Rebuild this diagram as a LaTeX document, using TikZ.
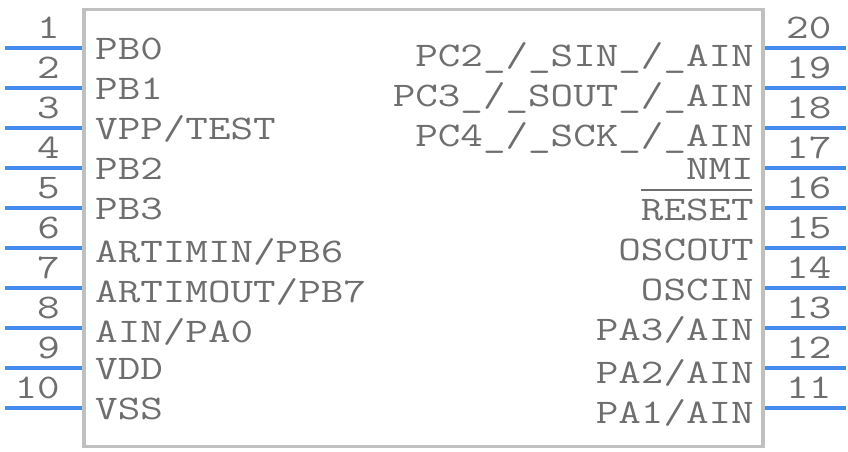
\documentclass[tikz,border=0pt]{standalone}
\usepackage{fontspec}
\setmonofont[FakeStretch=1.27]{Latin Modern Mono}
\usepackage{tikz}
\definecolor{pinblue}{RGB}{68,140,240}
\definecolor{labelgray}{RGB}{110,110,110}
\definecolor{bodygray}{RGB}{192,192,192}
\tikzstyle{chipbody} = [draw=bodygray, line width=3.2pt, rectangle, minimum width=679pt, minimum height=437pt, inner sep=0pt]
\tikzstyle{pinline} = [draw=pinblue, line width=3.2pt]
\tikzstyle{pinname} = [text=labelgray, inner sep=0pt, font=\ttfamily\fontsize{34.5}{34.5}\selectfont]
\tikzstyle{pinnum} = [pinname]

\begin{document}
\begin{tikzpicture}[x=1pt,y=-1pt]
        \useasboundingbox (0,0) rectangle (848,452);
        \node [chipbody] (chip) at (423.5,228) {};
        % left side, pins 1 to 10
        \foreach \n in {1,...,10} {
            \pgfmathsetmacro\py{8+40*\n}
            \coordinate (p\n) at (5,\py);
            \draw [pinline] (p\n) -- (chip.west |- p\n);
            \node [pinnum, anchor=base east] (n\n) at (60,\py-9.5) {\n};
        }
        % right side, pins 11 to 20
        \foreach \n in {11,...,20} {
            \pgfmathsetmacro\py{848-40*\n}
            \coordinate (p\n) at (846,\py);
            \draw [pinline] (chip.east |- p\n) -- (p\n);
            \node [pinnum, anchor=base west] (n\n) at (786,\py-9.5) {\n};
        }
        \node [pinname, anchor=base west] (l1) at (95,59.5) {PB0};
        \node [pinname, anchor=base west] (l2) at (95,99.5) {PB1};
        \node [pinname, anchor=base west] (l3) at (95,139.5) {VPP/TEST};
        \node [pinname, anchor=base west] (l4) at (95,179.5) {PB2};
        \node [pinname, anchor=base west] (l5) at (95,219.5) {PB3};
        \node [pinname, anchor=base west] (l6) at (95,262) {ARTIMIN/PB6};
        \node [pinname, anchor=base west] (l7) at (95,302) {ARTIMOUT/PB7};
        \node [pinname, anchor=base west] (l8) at (95,342) {AIN/PA0};
        \node [pinname, anchor=base west] (l9) at (95,379) {VDD};
        \node [pinname, anchor=base west] (l10) at (95,419) {VSS};
        \node [pinname, anchor=base east] (l20) at (754,66.5) {PC2\_/\_SIN\_/\_AIN};
        \node [pinname, anchor=base east] (l19) at (754,106.5) {PC3\_/\_SOUT\_/\_AIN};
        \node [pinname, anchor=base east] (l18) at (754,146) {PC4\_/\_SCK\_/\_AIN};
        \node [pinname, anchor=base east] (l17) at (754,179.5) {NMI};
        \node [pinname, anchor=base east] (l16) at (754,220) {RESET};
        \node [pinname, anchor=base east] (l15) at (754,260.5) {OSCOUT};
        \node [pinname, anchor=base east] (l14) at (754,300) {OSCIN};
        \node [pinname, anchor=base east] (l13) at (754,340) {PA3/AIN};
        \node [pinname, anchor=base east] (l12) at (754,383) {PA2/AIN};
        \node [pinname, anchor=base east] (l11) at (754,423) {PA1/AIN};
        \draw [labelgray, line width=1.6pt] ([yshift=30pt]l16.base west) -- ([yshift=30pt,xshift=-2pt]l16.base east);
    \end{tikzpicture}
\end{document}
